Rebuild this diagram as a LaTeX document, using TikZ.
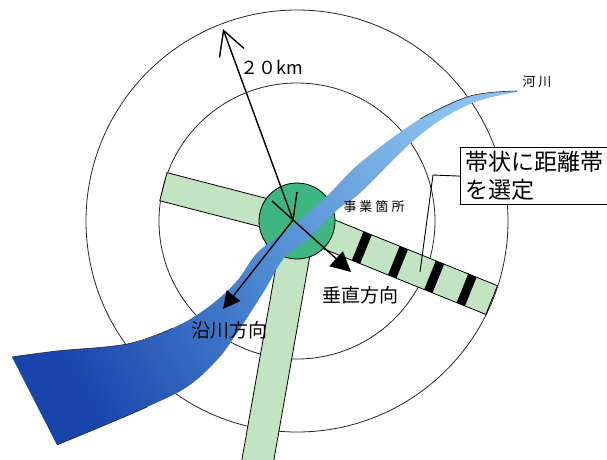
\documentclass[tikz,border=0pt]{standalone}
\usepackage{fontspec}
\newfontfamily\jp{Noto Sans CJK JP}
\usetikzlibrary{
  	positioning,
  	arrows.meta,
  	calc
  }

\definecolor{bandgreen}{RGB}{194,228,194}
\definecolor{sitegreen}{RGB}{62,182,130}
\definecolor{riverlight}{RGB}{138,192,236}
\definecolor{rivermid}{RGB}{78,138,210}
\definecolor{riverdark}{RGB}{24,68,172}

\tikzset{
  ring/.style={draw=black!85, line width=0.8pt},
  band/.style={fill=bandgreen, draw=black, line width=0.8pt},
  site/.style={fill=sitegreen, draw=black, line width=0.8pt},
  bankline/.style={draw=black!85, line width=0.6pt},
  radius arrow/.style={line width=1.4pt, -{Straight Barb[length=24pt, width=26pt]}},
  dir arrow/.style={line width=1.4pt, -{Triangle[length=#1, width=#1]}},
  jtext/.style={font=\jp\fontsize{#1}{#1}\selectfont, inner sep=0pt}
}

\begin{document}
\begin{tikzpicture}[x=1pt, y=-1pt]
	\useasboundingbox (0,0) rectangle (607,459);
	\clip (0,0) rectangle (607,459);
	\fill[white] (0,0) rectangle (607,459);
	\coordinate (O) at (297,221);
%
	% distance rings
	\draw[ring] (O) circle[radius=211];
	\draw[ring] (O) circle[radius=138];
%
	% bands out of the site
	\begin{scope}[shift={(296,221)}, rotate=165.5]
		\filldraw[band] (0,-14.5) -- (137,-14.5) -- (137,14.5) -- (0,14.5) -- cycle;
	\end{scope}
	\begin{scope}[shift={(300,221)}, rotate=-100]
		\filldraw[band] (0,-15.75) -- (260,-15.75) -- (260,15.75) -- (0,15.75) -- cycle;
	\end{scope}
	\begin{scope}[shift={(296,221)}, rotate=-22]
		\filldraw[band] (0,-15.5) -- (211,-15.5) -- (211,15.5) -- (0,15.5) -- cycle;
		\foreach \t in {71,110,149,184}
			\fill[black] (\t-4.5,-15.5) -- (\t+4.5,-15.5) -- (\t+4.5,15.5) -- (\t-4.5,15.5) -- cycle;
	\end{scope}
%
	\filldraw[site] (O) circle[radius=38];
%
	% river
	\shade[left color=riverdark, right color=riverlight, middle color=rivermid, shading angle=120]
		plot[smooth, tension=.6] coordinates {(517,91) (470,96) (420,119) (360,163) (327,196)
			(290,228) (258,252) (236,282) (207,308) (173,328) (127,344) (57,351) (12,357)}
		-- plot[smooth, tension=.6] coordinates {(57,445) (117,420) (147,407) (187,387) (217,360)
			(237,333) (263,293) (284,258) (307,240) (337,210) (360,193) (420,135) (470,104) (517,92)}
		-- cycle;
	\draw[bankline] plot[smooth, tension=.6] coordinates {(173,328) (127,344) (57,351) (12,357)};
	\draw[bankline] plot[smooth, tension=.6] coordinates {(57,445) (117,420) (147,407)};
	\draw[bankline] plot[smooth, tension=.6] coordinates {(420,119) (470,96) (517,91)};
%
	% directions
	\coordinate (c) at (293,220);
	\coordinate (r20) at (223,29);
	\coordinate (tk) at (297,192);
	\coordinate (pa) at (272,201);
	\coordinate (pb) at (351,272);
	\coordinate (ra) at (223,309);
	\draw[radius arrow] (c) -- (r20);
	\draw[line width=1.4pt] (tk) -- (c);
	\draw[dir arrow=20pt] (pa) -- (pb);
	\draw[dir arrow=17pt] (c) -- (ra);
%
	\node[jtext=18] (dist) at (272,67) {２０km};
	\node[jtext=13] (riv) at (537,82) {河\kern3pt川};
	\node[jtext=13] (site) at (374,207) {事\kern3pt業\kern3pt箇\kern3pt所};
	\node[jtext=19] (perp) at (360,295) {垂直方向};
	\node[jtext=19] (along) at (229,330) {沿川方向};
%
	% note on the banded zones
	\node[draw, fill=white, line width=1.2pt, anchor=north west, align=left,
		text width=150pt, minimum height=57pt, inner xsep=5pt, inner ysep=0pt,
		font=\jp\fontsize{23}{28}\selectfont] (sel) at (460,147) {帯状に距離帯\\を選定};
	\coordinate (bend) at (433,175);
	\coordinate (lt) at (420,272);
	\draw[line width=0.9pt] (sel.west) -- (bend) -- (lt);
\end{tikzpicture}
\end{document}
